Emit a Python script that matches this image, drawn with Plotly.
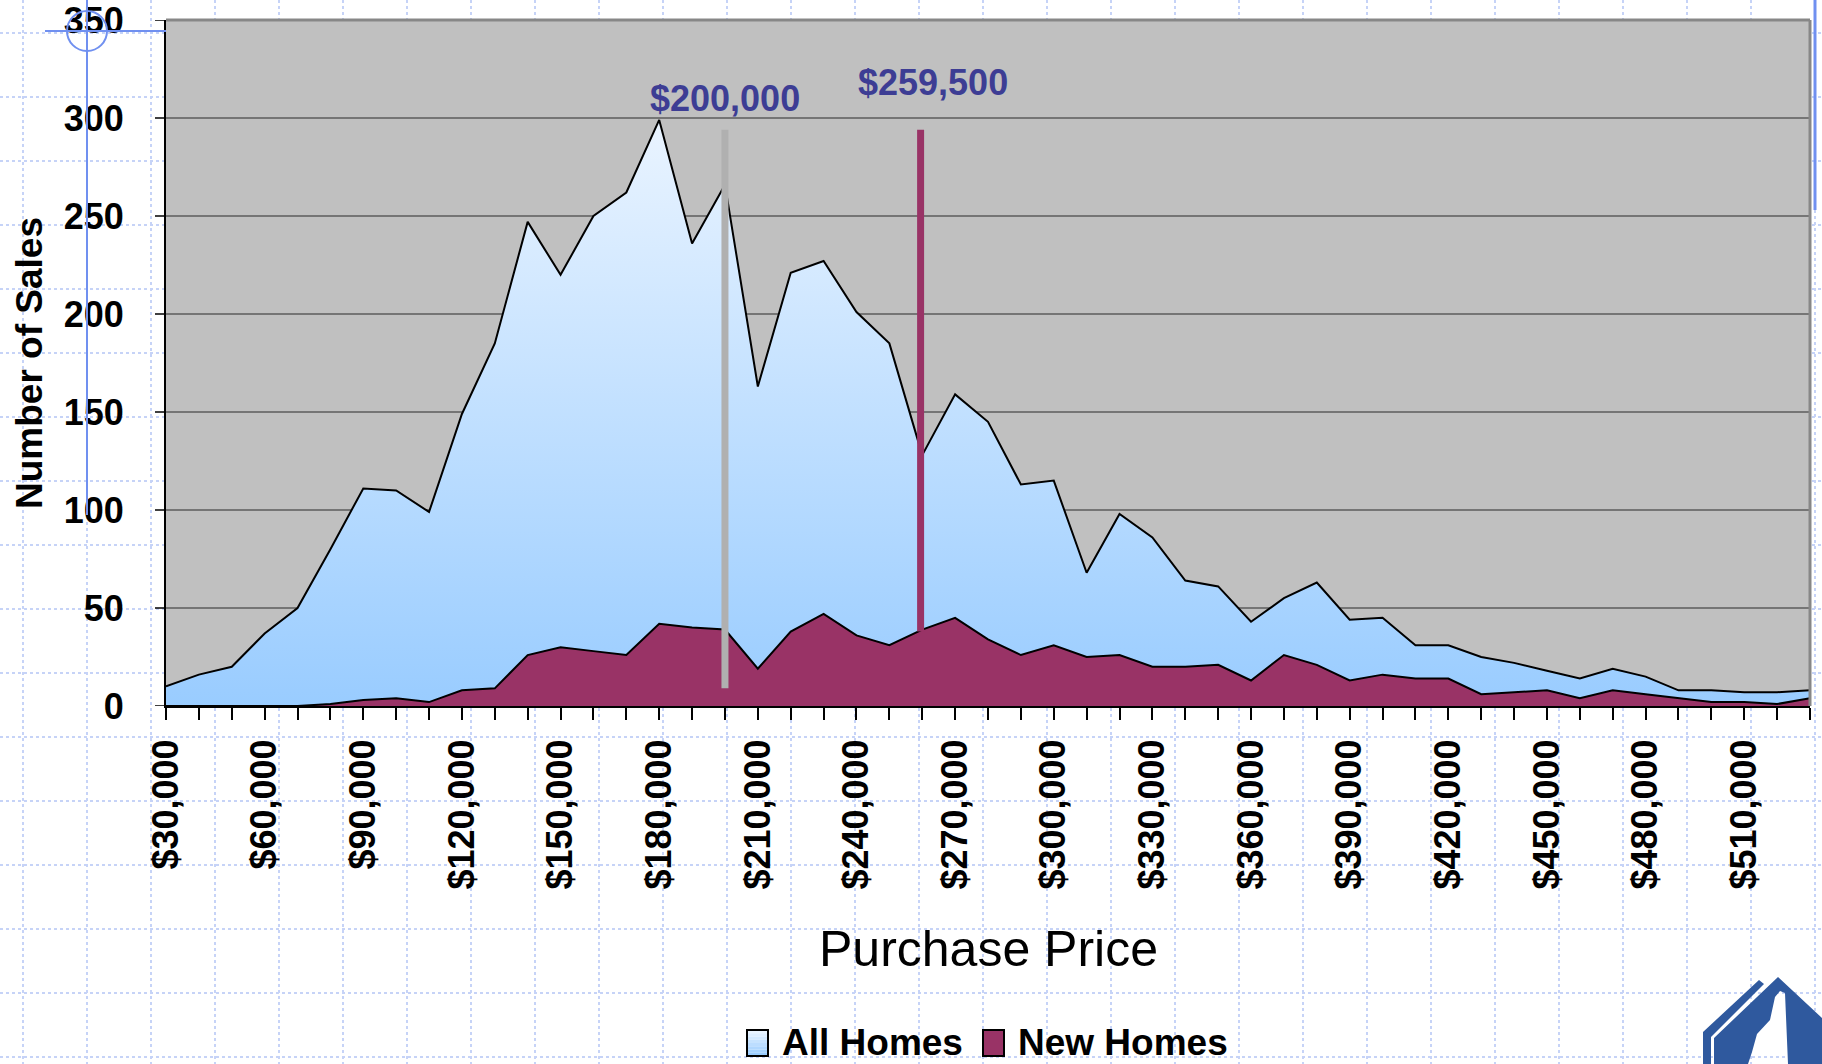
import plotly.graph_objects as go

# Sales counts by purchase price bucket ($10,000 steps)
prices = list(range(30000, 530001, 10000))
all_homes = [10, 16, 20, 37, 50, 80, 111, 110, 99, 149, 185, 247, 220, 250, 262,
             299, 236, 266, 163, 221, 227, 201, 185, 128, 159, 145, 113, 115, 68,
             98, 86, 64, 61, 43, 55, 63, 44, 45, 31, 31, 25, 22, 18, 14, 19, 15,
             8, 8, 7, 7, 8]
new_homes = [0, 0, 0, 0, 0, 1, 3, 4, 2, 8, 9, 26, 30, 28, 26, 42, 40, 39, 19, 38,
             47, 36, 31, 39, 45, 34, 26, 31, 25, 26, 20, 20, 21, 13, 26, 21, 13,
             16, 14, 14, 6, 7, 8, 4, 8, 6, 4, 2, 2, 1, 4]

median_all = 200000
median_new = 259500
y_ticks = list(range(0, 351, 50))
label_every = 30000
x_labels = [f"${p:,}" if (p - prices[0]) % label_every == 0 else "" for p in prices]
series_names = ["All Homes", "New Homes"]

W, H = 1822, 1064
PL, PR, PT, PB = 166, 1810, 20, 706
FONT = "Arial, Liberation Sans, sans-serif"
BLUE_LO, BLUE_HI, MAROON = "#99ccff", "#eaf4ff", "#993366"


def fx(x):
    return (x - PL) / (PR - PL)


def fy(y):
    return (PB - y) / (PB - PT)


fig = go.Figure()

fig.add_trace(go.Scatter(
    x=prices, y=all_homes, mode="lines", fill="tozeroy", name=series_names[0],
    line=dict(color="black", width=2),
    fillgradient=dict(type="vertical", start=0, stop=300,
                      colorscale=[[0, BLUE_LO], [1, BLUE_HI]]),
    showlegend=False, hoverinfo="skip"))
fig.add_trace(go.Scatter(
    x=prices, y=new_homes, mode="lines", fill="tozeroy", name=series_names[1],
    line=dict(color="black", width=2), fillcolor=MAROON,
    showlegend=False, hoverinfo="skip"))

shapes = []
dot = dict(color="#c6d3f7", width=2, dash="dot")
for k in range(17):
    y = 33 + 64 * k
    shapes.append(dict(type="line", xref="paper", yref="paper", layer="below",
                       x0=fx(0), x1=fx(W), y0=fy(y), y1=fy(y), line=dot))
for k in range(29):
    x = 23 + 64 * k
    shapes.append(dict(type="line", xref="paper", yref="paper", layer="below",
                       x0=fx(x), x1=fx(x), y0=fy(0), y1=fy(H), line=dot))

# plot area panel
shapes.append(dict(type="rect", xref="paper", yref="paper", layer="below",
                   x0=0, x1=1, y0=0, y1=1, fillcolor="#c0c0c0",
                   line=dict(width=0)))

# gridlines between 50 and 300
for v in y_ticks[1:-1]:
    shapes.append(dict(type="line", xref="paper", yref="y", layer="below",
                       x0=0, x1=1, y0=v, y1=v,
                       line=dict(color="#2a2a2a", width=1)))

# outward tick marks on the value axis
for v in y_ticks:
    shapes.append(dict(type="line", xref="paper", yref="y", layer="above",
                       x0=fx(PL - 11), x1=0, y0=v, y1=v,
                       line=dict(color="black", width=1.5)))

# frame on top and right side of the panel
shapes.append(dict(type="line", xref="paper", yref="paper", layer="above",
                   x0=0, x1=1, y0=1, y1=1, line=dict(color="#878787", width=3)))
shapes.append(dict(type="line", xref="paper", yref="paper", layer="above",
                   x0=1, x1=1, y0=0, y1=1, line=dict(color="#878787", width=3)))

# median markers
shapes.append(dict(type="line", xref="x", yref="y", layer="above",
                   x0=median_all, x1=median_all, y0=9, y1=294,
                   line=dict(color="#b0b0b0", width=7)))
shapes.append(dict(type="line", xref="x", yref="y", layer="above",
                   x0=median_new, x1=median_new, y0=38, y1=294,
                   line=dict(color=MAROON, width=7)))

# guide marks near the upper left corner and right edge
guide = dict(color="#7090f0", width=2)
shapes.append(dict(type="line", xref="paper", yref="paper", layer="above",
                   x0=fx(87), x1=fx(87), y0=fy(0), y1=fy(515), line=guide))
shapes.append(dict(type="line", xref="paper", yref="paper", layer="above",
                   x0=fx(45), x1=fx(166), y0=fy(31), y1=fy(31), line=guide))
shapes.append(dict(type="circle", xref="paper", yref="paper", layer="above",
                   x0=fx(67), x1=fx(107), y0=fy(11), y1=fy(51), line=guide))
shapes.append(dict(type="line", xref="paper", yref="paper", layer="above",
                   x0=fx(1815), x1=fx(1815), y0=fy(0), y1=fy(210),
                   line=dict(color="#7090f0", width=3)))

# legend keys: a shaded swatch for all homes, a solid one for new homes
KEY_TOP, KEY_BOT = 1030, 1056
LEGEND_MID = 1042
key_left = [747, 983]
text_left = [781, 1017]
strips = 8
lo = tuple(int(BLUE_LO[j:j + 2], 16) for j in (1, 3, 5))
hi = tuple(int(BLUE_HI[j:j + 2], 16) for j in (1, 3, 5))
for i in range(strips):
    t = i / (strips - 1)
    col = "rgb({},{},{})".format(*[round(h + (l - h) * t) for h, l in zip(hi, lo)])
    y0 = KEY_TOP + (KEY_BOT - KEY_TOP) * i / strips
    y1 = KEY_TOP + (KEY_BOT - KEY_TOP) * (i + 1) / strips
    shapes.append(dict(type="rect", xref="paper", yref="paper", layer="above",
                       x0=fx(key_left[0]), x1=fx(key_left[0] + 21),
                       y0=fy(y0), y1=fy(y1), fillcolor=col, line=dict(width=0)))
shapes.append(dict(type="rect", xref="paper", yref="paper", layer="above",
                   x0=fx(key_left[0]), x1=fx(key_left[0] + 21),
                   y0=fy(KEY_TOP), y1=fy(KEY_BOT),
                   line=dict(color="black", width=2)))
shapes.append(dict(type="rect", xref="paper", yref="paper", layer="above",
                   x0=fx(key_left[1]), x1=fx(key_left[1] + 21),
                   y0=fy(KEY_TOP), y1=fy(KEY_BOT), fillcolor=MAROON,
                   line=dict(color="black", width=2)))


# corner logo
def path(points):
    return "M " + " L ".join(f"{fx(x)},{fy(y)}" for x, y in points) + " Z"


logo_color = "#2f599e"
stripe = [(1703, 1064), (1703, 1032), (1759, 980), (1764, 984), (1711, 1037), (1711, 1064)]
peak = [(1714, 1064), (1714, 1038), (1778, 977), (1822, 1018), (1822, 1064),
        (1788, 1064), (1785, 993), (1780, 991), (1775, 997), (1770, 1020),
        (1757, 1034), (1752, 1052), (1748, 1064)]
for pts in (stripe, peak):
    shapes.append(dict(type="path", xref="paper", yref="paper", layer="above",
                       path=path(pts), fillcolor=logo_color, line=dict(width=0)))

label_font = dict(family=FONT, size=36, color="#3d3d94", weight="bold")
bold_black = dict(family=FONT, size=37, color="black", weight="bold")
annotations = [
    dict(x=median_all, y=310, xref="x", yref="y", text=f"${median_all:,}",
         showarrow=False, xanchor="center", yanchor="middle", font=label_font),
    dict(x=median_new, y=318, xref="x", yref="y", text=f"${median_new:,}",
         showarrow=False, xanchor="center", yanchor="middle", xshift=12,
         font=label_font),
    dict(x=fx(29), y=fy(363), xref="paper", yref="paper", text="Number of Sales",
         textangle=-90, showarrow=False, xanchor="center", yanchor="middle",
         font=bold_black),
    dict(x=0.5, y=fy(949), xref="paper", yref="paper", text="Purchase Price",
         showarrow=False, xanchor="center", yanchor="middle",
         font=dict(family=FONT, size=50, color="black")),
]
for name, tx in zip(series_names, text_left):
    annotations.append(dict(x=fx(tx), y=fy(LEGEND_MID), xref="paper", yref="paper",
                            text=name, showarrow=False, xanchor="left",
                            yanchor="middle", borderpad=0, font=bold_black))

fig.update_layout(
    width=W, height=H,
    margin=dict(l=PL, r=W - PR, t=PT, b=H - PB, autoexpand=False),
    paper_bgcolor="white",
    plot_bgcolor="rgba(0,0,0,0)",
    font=dict(family=FONT, color="black"),
    shapes=shapes,
    annotations=annotations,
    showlegend=False,
    xaxis=dict(range=[prices[0], prices[-1]], tickmode="array",
               tickvals=prices, ticktext=x_labels, tickangle=-90,
               showgrid=False, zeroline=False, showline=True,
               linecolor="black", linewidth=2, ticks="outside", ticklen=12,
               tickwidth=1.5, tickcolor="black", ticklabelstandoff=5,
               tickfont=dict(family=FONT, size=36, color="black", weight="bold"),
               automargin=False, fixedrange=True),
    yaxis=dict(range=[0, 350], tickmode="array", tickvals=y_ticks,
               showgrid=False, zeroline=False, showline=True,
               linecolor="black", linewidth=2, ticks="outside", ticklen=33,
               tickwidth=1, tickcolor="rgba(0,0,0,0)",
               ticklabeloverflow="allow",
               tickfont=dict(family=FONT, size=36, color="black", weight="bold"),
               automargin=False, fixedrange=True),
)

fig.write_html("out.html")
